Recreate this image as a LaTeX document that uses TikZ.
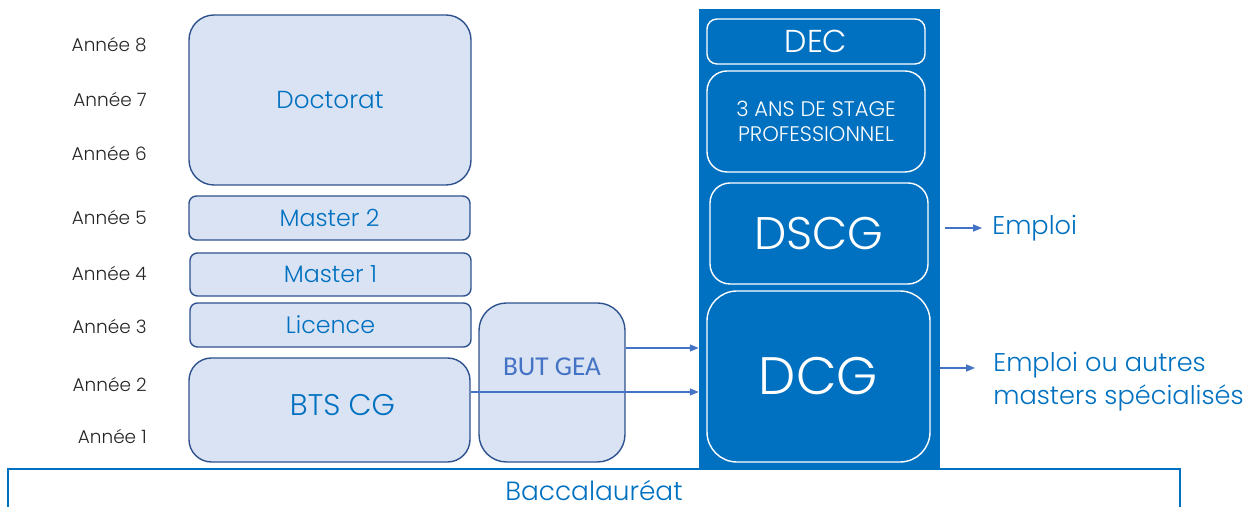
\documentclass[tikz,border=0pt]{standalone}
\usepackage{fontspec}
\setmainfont{Poppins}[UprightFont=* Light]
\newfontfamily\carlito{Carlito}
\usetikzlibrary{arrows.meta}

\begin{document}
\begin{tikzpicture}[
	annee/.style={anchor=east,inner sep=0pt,text=black!85,font=\fontsize{10.5}{12}\selectfont},
	etude/.style={draw=boxline,thick,fill=boxfill,text=textblue,rounded corners=#1,inner sep=0pt},
	etude/.default=0.15cm,
	dcgbox/.style={draw=white,thick,text=white,rounded corners=#1,inner sep=0pt,align=center},
	dcgbox/.default=0.4cm,
	fleche/.style={draw=arrowblue,line width=0.6pt,-{Triangle[length=5pt,width=4pt]}},
	sortie/.style={inner sep=0pt,text=textblue,align=left,font=\fontsize{14.6}{18.8}\selectfont}
	]
					\definecolor{boxfill}{HTML}{DAE3F3}
					\definecolor{boxline}{HTML}{2F528F}
					\definecolor{textblue}{HTML}{0070C0}
					\definecolor{colblue}{HTML}{0070C0}
					\definecolor{arrowblue}{HTML}{4472C4}
					\useasboundingbox (0,0) rectangle (25.14,10.14);

					\node[annee] (a8) at (2.94,9.24) {Année 8};
					\node[annee] (a7) at (2.94,8.16) {Année 7};
					\node[annee] (a6) at (2.94,7.08) {Année 6};
					\node[annee] (a5) at (2.94,5.80) {Année 5};
					\node[annee] (a4) at (2.94,4.68) {Année 4};
					\node[annee] (a3) at (2.94,3.62) {Année 3};
					\node[annee] (a2) at (2.94,2.46) {Année 2};
					\node[annee] (a1) at (2.94,1.42) {Année 1};

					\node[etude=0.5cm,minimum width=5.64cm,minimum height=3.40cm,font=\fontsize{14}{16}\selectfont] (doctorat) at (6.60,8.14) {Doctorat};
					\node[etude,minimum width=5.62cm,minimum height=0.88cm,font=\fontsize{13.5}{16}\selectfont] (master2) at (6.59,5.78) {Master 2};
					\node[etude,minimum width=5.62cm,minimum height=0.86cm,font=\fontsize{13.5}{16}\selectfont] (master1) at (6.61,4.65) {Master 1};
					\node[etude,minimum width=5.62cm,minimum height=0.88cm,font=\fontsize{13.5}{16}\selectfont] (licence) at (6.61,3.64) {Licence};
					\node[etude=0.45cm,minimum width=5.62cm,minimum height=2.08cm,text height=0.5cm,text depth=0.28cm,font=\fontsize{17}{20}\selectfont] (bts) at (6.59,1.94) {\hspace*{0.52cm}BTS CG};
					\node[etude=0.55cm,text=arrowblue,minimum width=2.92cm,minimum height=3.18cm,text height=0.4cm,text depth=0.67cm,font=\carlito\fontsize{15.5}{18}\selectfont] (gea) at (11.04,2.49) {BUT GEA};

					\node[draw=textblue,thick,minimum width=23.44cm,minimum height=0.84cm,inner sep=0pt,text=textblue,font=\fontsize{15}{18}\selectfont] (bac) at (11.88,0.34) {Baccalauréat};

					\node[fill=colblue,minimum width=4.82cm,minimum height=9.20cm,inner sep=0pt] (col) at (16.39,5.36) {};
					\node[dcgbox=0.2cm,minimum width=4.36cm,minimum height=0.90cm,font=\fontsize{18}{20}\selectfont] (dec) at (16.32,9.31) {DEC};
					\node[dcgbox,minimum width=4.36cm,minimum height=2.02cm,font=\fontsize{12}{14.2}\selectfont] (stage) at (16.32,7.71) {3 ANS DE STAGE\\PROFESSIONNEL};
					\node[dcgbox,minimum width=4.36cm,minimum height=2.02cm,font=\fontsize{26}{30}\selectfont] (dscg) at (16.38,5.47) {DSCG};
					\node[dcgbox=0.6cm,minimum width=4.46cm,minimum height=3.42cm,font=\fontsize{30}{34}\selectfont] (dcg) at (16.37,2.61) {DCG};

					\node[sortie,anchor=west] (emploi) at (19.84,5.58) {Emploi};
					\node[sortie,anchor=west] (autres) at (19.86,2.50) {Emploi ou autres\\masters spécialisés};

					\draw[fleche] ([yshift=0.69cm]gea.east) -- ([yshift=0.69cm]gea.east -| col.west);
					\draw[fleche] ([yshift=0.36cm]bts.east) -- ([yshift=0.36cm]bts.east -| col.west);
					\draw[fleche] ([xshift=0.1cm]col.east |- emploi.west) -- ([xshift=-0.2cm]emploi.west);
					\draw[fleche] ([yshift=0.28cm]autres.west -| col.east) -- ([xshift=-0.36cm,yshift=0.28cm]autres.west);
				\end{tikzpicture}
\end{document}
